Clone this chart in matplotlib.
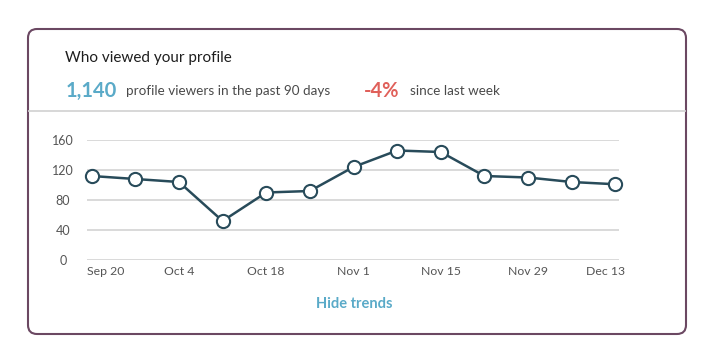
import matplotlib.pyplot as plt
from matplotlib.patches import FancyBboxPatch

plt.rcParams['font.family'] = ['Lato', 'DejaVu Sans']

dates = ["Sep 20", "Sep 27", "Oct 4", "Oct 11", "Oct 18", "Oct 25", "Nov 1",
         "Nov 8", "Nov 15", "Nov 22", "Nov 29", "Dec 6", "Dec 13"]
views = [112, 108, 104, 52, 90, 92, 124, 146, 144, 112, 110, 104, 101]
yticks = [0, 40, 80, 120, 160]
label_idx = [0, 2, 4, 6, 8, 10, 12]

W, H = 715, 361
fig = plt.figure(figsize=(W / 100, H / 100), dpi=100)

# background layer in pixel coords
bg = fig.add_axes([0, 0, 1, 1])
bg.set_xlim(0, W)
bg.set_ylim(H, 0)
bg.axis('off')

card = FancyBboxPatch((28, 29), 658, 305, boxstyle="round,pad=0,rounding_size=9",
                      fc="white", ec="#6b4862", lw=1.5)
bg.add_patch(card)
bg.plot([29, 685], [110.5, 110.5], color="#d4d4d4", lw=1.3)

bg.text(65, 58, "Who viewed your profile", fontsize=11, color="#1e1e1e",
        va="center", ha="left")
bg.text(66, 91, "1,140", fontsize=14.5, fontweight="bold", color="#5aaac8",
        va="center", ha="left")
bg.text(126, 91, "profile viewers in the past 90 days", fontsize=9.7,
        color="#4a4a4a", va="center", ha="left")
bg.text(364, 91, "-4%", fontsize=14.5, fontweight="bold", color="#e0605a",
        va="center", ha="left")
bg.text(410, 91, "since last week", fontsize=9.7, color="#4a4a4a",
        va="center", ha="left")
bg.text(354, 304, "Hide trends", fontsize=10.5, fontweight="bold",
        color="#5aaac8", va="center", ha="center")

# chart
ax = fig.add_axes([86.7 / W, 101 / H, 532.3 / W, 120 / H])
ax.patch.set_alpha(0)
x = list(range(len(views)))
ax.plot(x, views, color="#284b5a", lw=1.8, marker="o", ms=9.5,
        mfc="white", mec="#284b5a", mew=1.5, clip_on=False, zorder=3)
ax.set_xlim(-0.115, len(views) - 1 + 0.085)
ax.set_ylim(0, 160)
ax.set_yticks(yticks)
ax.set_yticklabels([str(v) for v in yticks])
ax.grid(axis="y", color="#cfcfcf", lw=1.1)
ax.set_axisbelow(True)
for s in ax.spines.values():
    s.set_visible(False)
ax.tick_params(length=0, labelsize=9, labelcolor="#555555")
ax.tick_params(axis="y", pad=17)
for lab in ax.get_yticklabels():
    lab.set_horizontalalignment("center")

ax.set_xticks([])
for i in label_idx:
    ha = "center"
    xi = i
    if i == 0:
        ha, xi = "left", -0.1
    elif i == len(views) - 1:
        ha, xi = "right", len(views) - 1 + 0.22
    ax.text(xi, -8, dates[i], ha=ha, va="top", fontsize=8.8, color="#555555")

fig.savefig("out.png", dpi=100)
